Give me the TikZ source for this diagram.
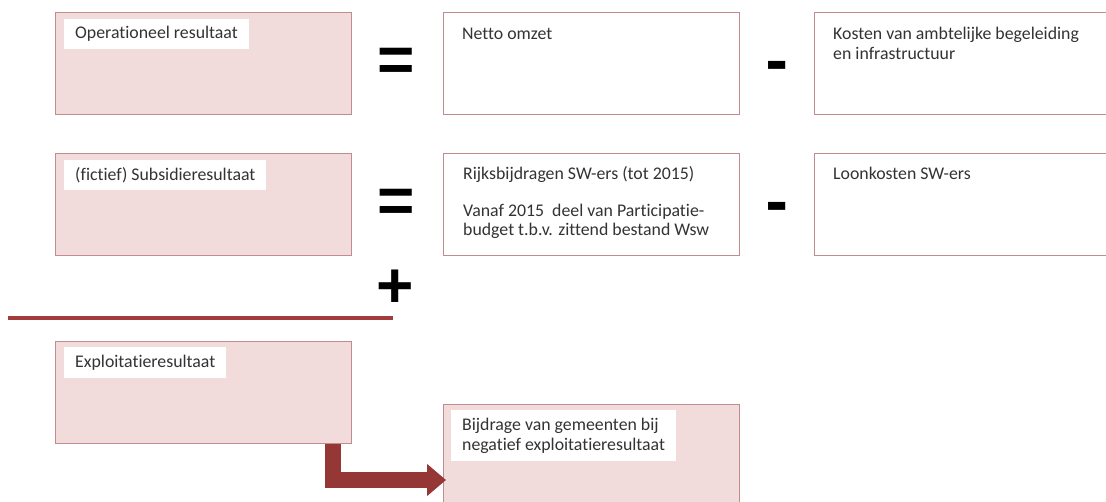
\documentclass[tikz,border=0pt]{standalone}
\usepackage{fontspec}
\setmainfont{Carlito}[Ligatures=NoCommon]
\newfontfamily\opfont{Liberation Sans}
\newfontfamily\minfont{DejaVu Sans}
\usetikzlibrary{arrows.meta,calc}
\definecolor{pinkfill}{HTML}{F2DCDB}
\definecolor{boxborder}{HTML}{C08C90}
\definecolor{darkred}{HTML}{953735}
\definecolor{linered}{HTML}{A33D3D}
\definecolor{txt}{HTML}{333333}
\tikzset{
  basebox/.style={draw=boxborder, line width=1.2pt, minimum width=296pt, minimum height=102pt, anchor=north west, inner sep=0pt},
  pinkbox/.style={basebox, fill=pinkfill},
  whitebox/.style={basebox, fill=white},
  labelbox/.style={fill=white, anchor=north west, inner xsep=11pt, inner ysep=0pt, align=left, text=txt, font=\fontsize{17.8}{19.5}\selectfont},
  boxtext/.style={anchor=base west, inner sep=0pt, align=left, text=txt, font=\fontsize{17.8}{19.5}\selectfont},
  opsign/.style={inner sep=0pt, text=black, font=\opfont\bfseries\fontsize{64}{64}\selectfont},
  minsign/.style={inner sep=0pt, text=black, font=\minfont\bfseries\fontsize{56}{56}\selectfont},
  bigarrow/.style={draw=darkred, line width=16pt, line join=miter, -{Triangle[length=19pt,width=31pt]}},
  sumline/.style={draw=linered, line width=3.5pt},
}
\begin{document}
\begin{tikzpicture}[x=1pt,y=-1pt]
\clip (0,0) rectangle (1106,502);
\fill[white] (0,0) rectangle (1106,502);
% row 1
\node[pinkbox] (op) at (55,12) {};
\node[labelbox, minimum height=30pt] (oplab) at (64,19) {Operationeel resultaat};
\node[opsign] (eq1) at (396,65) {=};
\node[whitebox] (omzet) at (443,12) {};
\node[boxtext] (omzettxt) at (462,40) {Netto omzet};
\node[minsign] (min1) at (777,71) {-};
\node[whitebox] (kosten) at (814,12) {};
\node[boxtext] (kostentxt) at (833,59.5) {Kosten van ambtelijke begeleiding\\en infrastructuur};
% row 2
\node[pinkbox] (sub) at (55,153) {};
\node[labelbox, minimum height=30pt] (sublab) at (64,160) {(fictief) Subsidieresultaat};
\node[opsign] (eq2) at (396,206) {=};
\node[whitebox] (rijk) at (443,153) {};
\node[boxtext] (rijktxt) at (463,236) {Rijksbijdragen SW-ers (tot 2015)\\[17pt]Vanaf 2015 \ deel van Participatie-\\budget t.b.v. zittend bestand Wsw};
\node[minsign] (min2) at (777,212) {-};
\node[whitebox] (loon) at (814,153) {};
\node[boxtext] (loontxt) at (833,180) {Loonkosten SW-ers};
% plus and sum line
\node[opsign] (plus) at (395.5,289) {+};
\coordinate (lineL) at (8,318);
\coordinate (lineR) at (393,318);
\draw[sumline] (lineL) -- (lineR);
% row 3
\node[pinkbox] (expl) at (55,341) {};
\node[labelbox, minimum height=31pt] (expllab) at (64,347) {Exploitatieresultaat};
\node[pinkbox] (bij) at (443,404) {};
\node[labelbox, minimum height=51pt] (bijlab) at (451,410) {Bijdrage van gemeenten bij\\negatief exploitatieresultaat};
\draw[bigarrow] ([xshift=-19pt]expl.south east) |- ([xshift=3pt,yshift=-76pt]bij.north west);
\end{tikzpicture}
\end{document}
